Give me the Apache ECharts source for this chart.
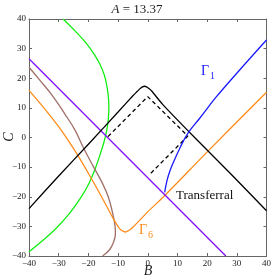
<!DOCTYPE html>
<html><head><meta charset="utf-8">
<script src="https://cdn.jsdelivr.net/npm/echarts@6/dist/echarts.min.js"></script>
<style>html,body{margin:0;padding:0;background:#fff}#c{width:274px;height:280px}</style>
</head><body><div id="c"></div>
<script>
const axisMin = -40, axisMax = 40, axisStep = 10;
const titleText = '13.37';
const blackSolid = [[-40,-24],[-30,-13],[-20,-2.3],[-10,8.6],[-5,14.1],[-3.6,15.5],[-2.6,16.5],[-1.8,17.1],[-1.1,17.3],[-0.4,17.1],[0.4,16.5],[1.4,15.6],[5,11.2],[15.8,0],[28,-12.3],[40,-24.7]];
const blackDashed = [[-13.4,0.3],[0,13.8],[13.5,0.5],[0.8,-12.3]];
const purple = [[-40,26.6],[26.3,-40]];
const blue = [[5.7,-18.5],[6.5,-14.5],[7.4,-11.5],[8.5,-8.7],[11,-3.2],[13.5,1.4],[17.5,6.5],[23,13.6],[30,21.7],[40,32.9]];
const orange = [[-40,15.9],[-35,10],[-30.2,3.9],[-26.8,-1],[-23.4,-6.3],[-20.1,-11.9],[-15.6,-19.9],[-11.7,-27.2],[-9.8,-30.3],[-8.6,-31.5],[-7.5,-31.9],[-6.4,-31.4],[-5,-30.3],[0,-25.1],[6,-19.3],[20.3,-4.6],[40,15.3]];
const green = [[-28.5,40],[-24.5,36],[-20.6,31.7],[-17.8,27.7],[-16,24.5],[-14.6,21],[-13.7,17],[-13.2,13],[-13.1,9.5],[-13.3,6],[-13.8,2.5],[-14.6,-1],[-15.8,-5],[-17.8,-10.8],[-19.8,-15.5],[-22.6,-20.4],[-26.5,-25.8],[-31,-30.8],[-36,-35.3],[-40,-38.6]];
const brown = [[-40,23.7],[-36.3,19.3],[-32,14],[-27.9,7.9],[-24.5,2.5],[-21.7,-3.4],[-18.5,-9.5],[-15.6,-14.8],[-13.3,-20],[-11.7,-26.1],[-11,-30],[-10.9,-32.6],[-11.5,-35.3],[-12.8,-37.8],[-15.2,-40]];

const serif = '"Liberation Serif", "DejaVu Serif", serif';
const minusFmt = v => String(v).replace('-', '\u2212');
const axisCommon = {
  type: 'value', min: axisMin, max: axisMax, interval: axisStep,
  axisLine: { show: true, onZero: false, lineStyle: { color: '#666', width: 1 } },
  axisTick: { show: true, inside: true, length: 3, lineStyle: { color: '#666' } },
  splitLine: { show: false },
  axisLabel: { fontFamily: serif, fontSize: 9, color: '#222', formatter: minusFmt, margin: 3 }
};
const mk = (data, color, extra) => Object.assign({
  type: 'line', data, showSymbol: false, symbol: 'none', clip: true,
  lineStyle: { color, width: 1.3 }, silent: true, animation: false
}, extra || {});

const chart = echarts.init(document.getElementById('c'), null, { renderer: 'canvas' });
chart.setOption({
  animation: false,
  backgroundColor: '#fff',
  grid: { left: 29, right: 7, top: 19, bottom: 24 },
  xAxis: [
    Object.assign({}, axisCommon, { position: 'bottom' }),
    Object.assign({}, axisCommon, { position: 'top', axisLabel: { show: false } })
  ],
  yAxis: [
    Object.assign({}, axisCommon, { position: 'left' }),
    Object.assign({}, axisCommon, { position: 'right', axisLabel: { show: false } })
  ],
  series: [
    mk(green, '#11ee11', { smooth: 0.4 }),
    mk(brown, '#a07068', { smooth: 0.4 }),
    mk(orange, '#ff8c1a', { smooth: 0.35 }),
    mk(purple, '#8010ff'),
    mk(blackSolid, '#000', { smooth: 0.2 }),
    mk(blackDashed, '#000', { lineStyle: { color: '#000', width: 1.3, type: [4, 3] } }),
    mk(blue, '#1a1aff', { smooth: 0.4 })
  ],
  graphic: [
    { type: 'text', left: 'center', top: 3, style: { rich: { i: { fontStyle: 'italic', fontFamily: serif, fontSize: 13 }, n: { fontFamily: serif, fontSize: 13 } }, text: '{i|A}{n| = ' + titleText + '}', fill: '#222' } },
    { type: 'text', x: 148, y: 264, style: { text: 'B', font: 'italic 14px ' + serif, fill: '#222', align: 'center' } },
    { type: 'text', x: 9, y: 137, rotation: Math.PI / 2, style: { text: 'C', font: 'italic 14px ' + serif, fill: '#222', align: 'center', verticalAlign: 'middle' } },
    { type: 'text', x: 201, y: 64, style: { text: '\u0393', font: '14px ' + serif, fill: '#1a1aff' } },
    { type: 'text', x: 210, y: 71, style: { text: '1', font: '10px ' + serif, fill: '#1a1aff' } },
    { type: 'text', x: 139, y: 223, style: { text: '\u0393', font: '14px ' + serif, fill: '#ff8c1a' } },
    { type: 'text', x: 148, y: 230, style: { text: '6', font: '10px ' + serif, fill: '#ff8c1a' } },
    { type: 'text', x: 176, y: 189, style: { text: 'Transferral', font: '13px ' + serif, fill: '#111' } }
  ]
});
</script>
</body></html>
